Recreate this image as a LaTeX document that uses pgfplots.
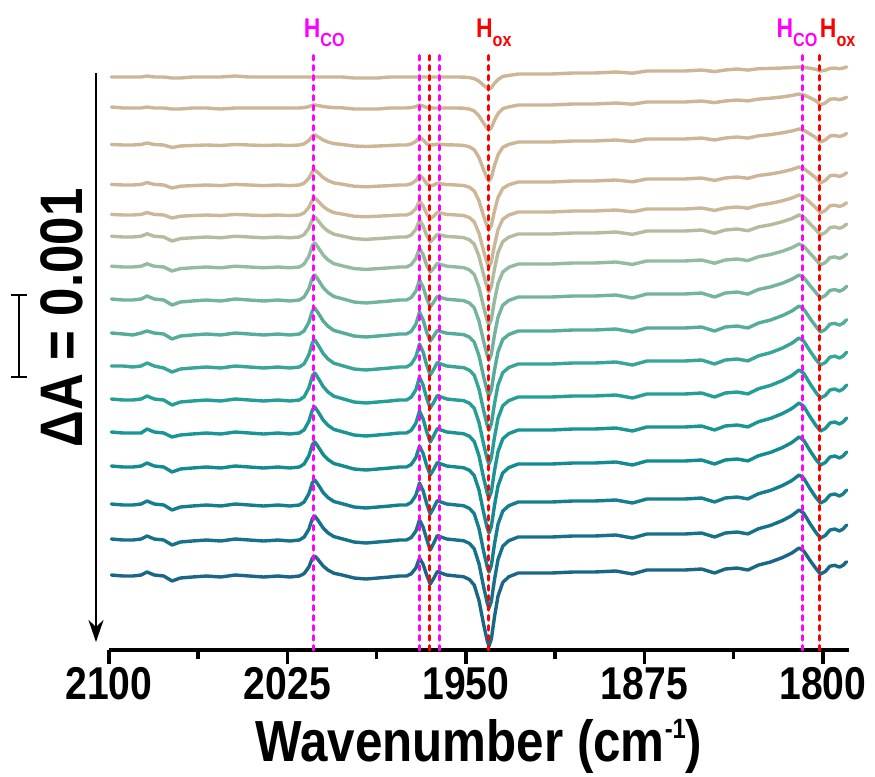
\documentclass[border=0pt]{standalone}
\usepackage{fontspec}
\setmainfont{Liberation Sans}[FakeStretch=0.85]
\usepackage{pgfplots}
\pgfplotsset{compat=1.18}
\usepackage{pgfplotstable}
\usetikzlibrary{arrows.meta}
\definecolor{mag}{RGB}{255,0,255}
\definecolor{rd}{RGB}{255,0,0}
\definecolor{c1}{RGB}{204,182,150}
\definecolor{c2}{RGB}{204,182,150}
\definecolor{c3}{RGB}{204,182,150}
\definecolor{c4}{RGB}{204,182,150}
\definecolor{c5}{RGB}{202,184,152}
\definecolor{c6}{RGB}{178,188,158}
\definecolor{c7}{RGB}{148,186,160}
\definecolor{c8}{RGB}{116,180,158}
\definecolor{c9}{RGB}{86,172,155}
\definecolor{c10}{RGB}{56,165,152}
\definecolor{c11}{RGB}{36,158,150}
\definecolor{c12}{RGB}{26,148,148}
\definecolor{c13}{RGB}{20,138,145}
\definecolor{c14}{RGB}{20,126,142}
\definecolor{c15}{RGB}{22,114,138}
\definecolor{c16}{RGB}{26,102,134}
\pgfplotstableread{
x t1 t2 t3 t4 t5 t6 t7 t8 t9 t10 t11 t12 t13 t14 t15 t16
2099 0 1 0.5 0.6 0.6 0.8 0.8 1 1 1 1 1 1 1 1 1
2094 0 0 0 0 0 0 0 0 0 1 0 0 0 0 0 0
2090 0 0 0 0 0 0 0 0 -1 0 0 0 0 0 0 0
2086.5 0 0 0.5 0.6 0.6 0.8 0.8 1 1 1 1 0 1 1 1 1
2084 1 1 2 2.4 2.4 3.2 3.2 4 3 4 4 4 4 4 4 4
2081 0 0 0.5 0.6 0.6 0.8 0.8 1 1 1 1 1 1 1 1 1
2077 0 0 0 0 0 0 0 0 0 -1 0 0 0 0 0 0
2073.5 -1 -1 -2.5 -3 -3 -4 -4 -5 -5 -5 -5 -4 -5 -5 -5 -5
2070 -1 -1 -1 -1.2 -1.2 -1.6 -1.6 -2 -2 -2 -2 -2 -2 -2 -2 -2
2065 0 0 -0.5 -0.6 -0.6 -0.8 -0.8 -1 -1 -1 -1 -1 -1 -1 -1 -1
2059 0 0 0 0 0 0 0 0 0 0 0 0 0 0 0 0
2053 0 -1 -0.5 -0.6 -0.6 -0.8 -0.8 -1 -1 -1 -1 -1 -1 -1 -1 -1
2047 1 0 0.5 0.6 0.6 0.8 0.8 1 1 1 1 1 1 1 1 1
2041 0 0 0 0 0 0 0 0 0 0 0 0 0 0 0 0
2035 0 0 -0.5 -0.6 -0.6 -0.8 -0.8 -1 -1 -1 -1 -1 -1 -1 -1 -1
2029 0 0 0 0 0 0 0 0 0 0 0 0 0 0 0 0
2024 0 0 -0.5 -0.6 -0.6 -0.8 -0.8 -1 -1 -1 -1 -1 -1 -1 -1 -1
2020 0 0 0 0 0 0 0 0 0 0 0 0 0 0 0 0
2018 0 0.4 1.2 1.8 2 2.4 2.9 3 3.1 3.2 3.2 3.1 3 3 2.9 2.4
2016 0 1.4 4.5 6.8 7.7 9 10.8 11.3 11.7 12.2 12.2 11.7 11.3 11.3 10.8 9
2014.5 0 2.7 9 13.5 15.3 18 21.6 22.5 23.4 24.3 24.3 23.4 22.5 22.5 21.6 18
2013.5 0 3 10 15 17 20 24 25 26 27 27 26 25 25 24 20
2012 0 2.4 8 12 13.6 16 19.2 20 20.8 21.6 21.6 20.8 20 20 19.2 16
2010 0 1.5 5 7.5 8.5 10 12 12.5 13 13.5 13.5 13 12.5 12.5 12 10
2008 0 0.9 3 4.5 5.1 6 7.2 7.5 7.8 8.1 8.1 7.8 7.5 7.5 7.2 6
2005.5 0 0.4 1.4 2.1 2.4 2.8 3.4 3.5 3.6 3.8 3.8 3.6 3.5 3.5 3.4 2.8
2002 0 0.2 0.5 0.8 0.9 1 1.2 1.3 1.3 1.4 1.4 1.3 1.3 1.3 1.2 1
1997 -1 -1 -1 -1.2 -1.2 -1.6 -1.6 -2 -2 -2 -2 -2 -2 -2 -2 -2
1992 -1 -1 -1.5 -1.8 -1.8 -2.4 -2.4 -3 -3 -3 -3 -3 -3 -3 -3 -3
1987 -1 -1 -1 -1.2 -1.2 -1.6 -1.6 -2 -2 -2 -2 -2 -2 -2 -2 -2
1982 0 0 -0.5 -0.6 -0.6 -0.8 -0.8 -1 -1 -1 -1 -1 -1 -1 -1 -1
1978 0 0 0 0 0 0 0 0 0 0 0 0 0 0 0 0
1975 0 0 0 0 0 0 0 0 0 0 0 0 0 0 0 0
1973 0 0.4 1 1.2 1.7 2 2.3 2.4 2.6 2.8 2.8 2.6 2.5 2.6 2.4 2.2
1971 0 1.4 3.6 4.5 6.3 7.7 8.6 9 9.9 10.4 10.4 9.9 9.5 9.9 9 8.1
1969.5 0 3 8 10 14 17 19 20 22 23 23 22 21 22 20 18
1968 0 2 5.2 6.5 9.1 11.1 12.4 13 14.3 15 15 14.3 13.7 14.3 13 11.7
1966.5 0 0.5 1.2 1.3 1.3 1.6 1.9 1.6 1.9 1.9 1.9 1.5 1.6 1.5 1 1.1
1965 0 0 0 -1 -4 -5 -5 -7 -7 -8 -8 -9 -8 -9 -10 -8
1963.5 0 0 0.2 0 -1 -1.4 -1.2 -2 -2 -2.2 -2.2 -2.6 -2.2 -2.6 -3 -2.2
1962 0 0 0.9 1.8 2.7 2.7 3.6 3.6 3.6 4.5 4.5 4.5 4.5 4.5 4.5 4.5
1960.5 0 0 0.6 1.2 1.8 1.8 2.4 2.4 2.4 3 3 3 3 3 3 3
1958 0 0 0.2 0.4 0.6 0.6 0.8 0.8 0.8 1 1 1 1 1 1 1
1954 0 0 0 0 0 0 0 0 0 0 0 0 0 0 0 0
1951 -0.1 -0.2 -0.4 -0.5 -0.5 -0.6 -0.6 -0.6 -0.6 -0.6 -0.6 -0.7 -0.7 -0.7 -0.7 -0.7
1948.5 -0.6 -1.1 -1.8 -2.3 -2.6 -2.8 -2.9 -3 -3.1 -3.2 -3.2 -3.3 -3.3 -3.4 -3.4 -3.5
1946.5 -1.6 -2.9 -4.7 -5.9 -6.8 -7.2 -7.5 -7.8 -8.1 -8.2 -8.3 -8.5 -8.6 -8.7 -8.8 -9.1
1944.5 -4.2 -7.7 -12.6 -15.8 -18.2 -19.3 -20.3 -21 -21.7 -22.1 -22.4 -22.8 -23.1 -23.5 -23.8 -24.5
1942.5 -8.4 -15.4 -25.2 -31.5 -36.4 -38.5 -40.6 -42 -43.4 -44.1 -44.8 -45.5 -46.2 -46.9 -47.6 -49
1941 -11.2 -20.5 -33.5 -41.9 -48.4 -51.2 -53.9 -55.8 -57.7 -58.6 -59.5 -60.5 -61.4 -62.3 -63.2 -65.1
1940.3 -12 -22 -36 -45 -52 -55 -58 -60 -62 -63 -64 -65 -66 -67 -68 -70
1939.3 -10.8 -19.8 -32.4 -40.5 -46.8 -49.5 -52.2 -54 -55.8 -56.7 -57.6 -58.5 -59.4 -60.3 -61.2 -63
1938 -6.2 -12.2 -20.6 -26 -30.2 -32 -33.8 -35 -36.2 -36.8 -37.4 -38 -38.6 -39.2 -39.8 -41
1936.5 -2.6 -5.6 -9.8 -12.5 -14.6 -15.5 -16.4 -17 -17.6 -17.9 -18.2 -18.5 -18.8 -19.1 -19.4 -20
1934.5 0.6 -0.6 -2.3 -3.4 -4.2 -4.6 -5 -5.2 -5.4 -5.6 -5.7 -5.8 -5.9 -6 -6.2 -6.4
1932 1.5 1.1 0.6 0.2 -0.1 -0.2 -0.3 -0.4 -0.5 -0.5 -0.6 -0.6 -0.6 -0.7 -0.7 -0.8
1928 3 3 3 3 3 3 3 3 3 3 3 3 3 3 3 3
1922 3 3 3 3 3 3 3 3 3 3 3 3 3 3 3 3
1914 3 3 3 3 3 3 3 3 3 3 3 3 3 3 3 3
1905 4 4 4 4 4 4 4 4 4 4 4 4 4 4 4 4
1896 4 4 4 4 4 4 4 4 4 4 4 4 4 4 4 4
1887 5 5 5 5 5 5 5 5 5 5 5 5 5 5 5 5
1880 3.8 3.8 3.5 3.2 3.2 2.6 2.6 2 2 2 2 2 2 2 2 2
1874 6 6 6 6 6 6 6 6 6 6 6 6 6 6 6 6
1866 6 6 6 6 6 6 6 6 6 6 6 6 6 6 6 6
1858 6 6 6 6 6 6 6 6 6 6 6 6 6 6 6 6
1851 7 7 7 7 7 7 7 7 7 7 7 7 7 7 7 7
1845.5 5.4 5.4 5 4.6 4.6 3.8 3.8 3 3 3 3 3 3 3 3 3
1841 7 7 7 7 7 7 7 7 7 7 7 7 7 7 7 7
1836 8 8 8 8 8 8 8 8 8 8 8 8 8 8 8 8
1831.5 6.9 7.1 6.9 6.7 6.8 6.3 6.4 5.9 6 6.1 6.1 6.1 6.1 6.1 6.1 6
1827 8.3 8.9 9.2 9.5 9.8 10.1 10.3 10.6 11 11.2 11.3 11.3 11.3 11.3 11.3 11
1822 8.6 9.8 10.4 11 11.6 12.2 12.5 13.1 14 14.3 14.6 14.6 14.6 14.6 14.6 14
1817 9 11.1 12.2 13.2 14.2 15.3 15.8 16.8 18.4 18.9 19.4 19.4 19.4 19.4 19.4 18.4
1813 9.5 12.5 14 15.5 17 18.5 19.3 20.8 23 23.8 24.5 24.5 24.5 24.5 24.5 23
1810 10 14 16 18 20 22 23 25 28 29 30 30 30 30 30 28
1808 9.7 13.1 14.8 16.5 18.2 19.9 20.8 22.5 25 25.9 26.7 26.7 26.7 26.7 26.7 25
1805.5 8.8 10.4 11.2 12 12.8 13.6 14 14.8 16 16.4 16.8 16.8 16.8 16.8 16.8 16
1803 7.7 7.3 7.4 7.3 7.4 7.5 7.6 7.7 7.8 7.9 7.9 7.9 7.9 7.9 7.9 7.8
1801 6 3 3 2 2 2 2 2 2 2 2 2 2 2 2 2
1799 6.8 5 5 4.4 4.4 4.4 4.4 4.4 4.4 4.4 4.4 4.4 4.4 4.4 4.4 4.4
1797 8.6 8.8 9 9.2 9.2 9.4 9.4 9.6 9.8 9.9 10 10 10 10 10 9.8
1795 8.9 9.2 9.5 9.8 9.8 10.1 10.1 10.4 10.7 10.9 11 11 11 11 11 10.7
1793 8.3 8.4 8.5 8.6 8.6 8.7 8.7 8.8 8.9 9 9 9 9 9 9 8.9
1791.5 8.9 9.2 9.5 9.8 9.8 10.1 10.1 10.4 10.7 10.9 11 11 11 11 11 10.7
1790 10.1 10.8 11.5 12.2 12.2 12.9 12.9 13.6 14.3 14.7 15 15 15 15 15 14.3
}\spec
\begin{document}
\begin{tikzpicture}
\useasboundingbox (0pt,0pt) rectangle (875pt,-776pt);
\begin{axis}[
  at={(109pt,-650pt)}, anchor=south west,
  scale only axis, width=740pt, height=600pt,
  xmin=1789, xmax=2100, x dir=reverse,
  ymin=-650, ymax=-50,
  axis x line*=bottom, axis y line=none,
  axis line style={line width=4pt},
  xtick={2100,2025,1950,1875,1800},
  minor xtick={2062.5,1987.5,1912.5,1837.5},
  tick align=outside, major tick length=14pt, minor tick length=9pt,
  every tick/.style={black, line width=3.5pt},
  xticklabel style={font=\fontsize{46}{46}\selectfont\bfseries},
  /pgf/number format/assume math mode=true,
  /pgf/number format/1000 sep={},
  xlabel={Wavenumber (cm\raisebox{23pt}{\fontsize{28}{28}\selectfont -1})},
  xlabel style={font=\fontsize{58}{58}\selectfont\bfseries, yshift=-12pt},
  clip=false,
  every axis plot/.append style={line width=3.4pt, line join=round, line cap=round},
]
\addplot[c1] table[x=x, y expr=\thisrow{t1}-77] {\spec};
\addplot[c2] table[x=x, y expr=\thisrow{t2}-108] {\spec};
\addplot[c3] table[x=x, y expr=\thisrow{t3}-145] {\spec};
\addplot[c4] table[x=x, y expr=\thisrow{t4}-185] {\spec};
\addplot[c5] table[x=x, y expr=\thisrow{t5}-215] {\spec};
\addplot[c6] table[x=x, y expr=\thisrow{t6}-237] {\spec};
\addplot[c7] table[x=x, y expr=\thisrow{t7}-267] {\spec};
\addplot[c8] table[x=x, y expr=\thisrow{t8}-300] {\spec};
\addplot[c9] table[x=x, y expr=\thisrow{t9}-334] {\spec};
\addplot[c10] table[x=x, y expr=\thisrow{t10}-367] {\spec};
\addplot[c11] table[x=x, y expr=\thisrow{t11}-400] {\spec};
\addplot[c12] table[x=x, y expr=\thisrow{t12}-433] {\spec};
\addplot[c13] table[x=x, y expr=\thisrow{t13}-467] {\spec};
\addplot[c14] table[x=x, y expr=\thisrow{t14}-505] {\spec};
\addplot[c15] table[x=x, y expr=\thisrow{t15}-540] {\spec};
\addplot[c16] table[x=x, y expr=\thisrow{t16}-576] {\spec};
% marker lines
\pgfplotsset{mk/.style={line width=3pt, line cap=round, dash pattern=on 4.5pt off 5.5pt}}
\addplot[mk, mag] coordinates {(2014,-650) (2014,-52)};
\addplot[mk, mag] coordinates {(1969.5,-650) (1969.5,-52)};
\addplot[mk, rd] coordinates {(1965.3,-650) (1965.3,-52)};
\addplot[mk, mag] coordinates {(1961,-650) (1961,-52)};
\addplot[mk, rd] coordinates {(1940.4,-650) (1940.4,-52)};
\addplot[mk, mag] coordinates {(1808.5,-650) (1808.5,-52)};
\addplot[mk, rd] coordinates {(1801.2,-650) (1801.2,-52)};
\node[anchor=base west, mag, inner sep=0pt] at (axis cs:2018.2,-37) {\fontsize{27}{27}\selectfont\bfseries H\raisebox{-9pt}{\fontsize{19}{19}\selectfont CO}};
\node[anchor=base west, rd, inner sep=0pt] at (axis cs:1945.8,-37) {\fontsize{27}{27}\selectfont\bfseries H\raisebox{-9pt}{\fontsize{19}{19}\selectfont ox}};
\node[anchor=base west, mag, inner sep=0pt] at (axis cs:1819.5,-37) {\fontsize{27}{27}\selectfont\bfseries H\raisebox{-9pt}{\fontsize{19}{19}\selectfont CO}};
\node[anchor=base west, rd, inner sep=0pt] at (axis cs:1801.3,-37) {\fontsize{27}{27}\selectfont\bfseries H\raisebox{-9pt}{\fontsize{19}{19}\selectfont ox}};
\end{axis}
\draw[line width=2.2pt, -{Stealth[length=22pt, width=15pt, inset=7pt]}] (96pt,-73pt) -- (96pt,-642pt);
\draw[line width=2.2pt] (19pt,-295pt) -- (19pt,-377pt);
\draw[line width=2.2pt] (11pt,-295pt) -- (27pt,-295pt);
\draw[line width=2.2pt] (11pt,-377pt) -- (27pt,-377pt);
\node[rotate=90, inner sep=0pt] at (62pt,-318pt) {\fontsize{60}{60}\selectfont\bfseries ΔA = 0.001};
\end{tikzpicture}
\end{document}
